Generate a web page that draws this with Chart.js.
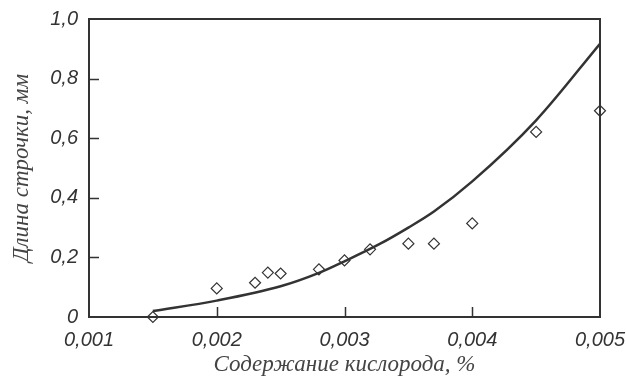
<!DOCTYPE html>
<html>
<head>
<meta charset="utf-8">
<script src="https://cdn.jsdelivr.net/npm/chart.js@4"></script>
<style>
  html, body { margin: 0; padding: 0; background: #fff; }
  #wrap { width: 626px; height: 379px; }
</style>
</head>
<body>
<div id="wrap"><canvas id="oxygenChart" width="626" height="379"></canvas></div>
<script>
// measured points (diamonds)
const pointX = [0.0015, 0.002, 0.0023, 0.0024, 0.0025, 0.0028, 0.003, 0.0032, 0.0035, 0.0037, 0.004, 0.0045, 0.005];
const pointY = [0.0, 0.096, 0.115, 0.149, 0.146, 0.160, 0.190, 0.227, 0.246, 0.246, 0.314, 0.621, 0.692];

// fitted curve
const curveX = [0.0015, 0.002, 0.0025, 0.0028, 0.003, 0.00328, 0.0035, 0.0037, 0.004, 0.0045, 0.005];
const curveY = [0.020, 0.055, 0.103, 0.148, 0.187, 0.246, 0.300, 0.354, 0.455, 0.660, 0.917];

// axis ticks
const xTicks = [0.001, 0.002, 0.003, 0.004, 0.005];
const xTickLabels = ["0,001", "0,002", "0,003", "0,004", "0,005"];
const yTicks = [0, 0.2, 0.4, 0.6, 0.8, 1.0];
const yTickLabels = ["0", "0,2", "0,4", "0,6", "0,8", "1,0"];

const xTitle = "Содержание кислорода, %";
const yTitle = "Длина строчки, мм";

const ink = "#333333";
const tickFont = { family: "'Liberation Sans', Arial, sans-serif", size: 20, style: "italic" };
const titleFont = { family: "'Liberation Serif', 'Times New Roman', serif", size: 23, style: "italic", lineHeight: 1.2 };

const ctx = document.getElementById("oxygenChart").getContext("2d");

// frame, inner ticks and the y title
const framePlugin = {
  id: "frame",
  afterDatasetsDraw(chart) {
    const c = chart.ctx;
    const a = chart.chartArea;
    const xs = chart.scales.x;
    const ys = chart.scales.y;
    c.save();
    c.strokeStyle = ink;
    c.lineWidth = 2;
    c.strokeRect(a.left, a.top, a.right - a.left, a.bottom - a.top);
    c.lineWidth = 1.5;
    c.beginPath();
    xTicks.slice(1, -1).forEach(v => {
      const px = Math.round(xs.getPixelForValue(v)) + 0.5;
      c.moveTo(px, a.bottom);
      c.lineTo(px, a.bottom - 10);
    });
    yTicks.slice(1, -1).forEach(v => {
      const py = Math.round(ys.getPixelForValue(v)) + 0.5;
      c.moveTo(a.left, py);
      c.lineTo(a.left + 10, py);
    });
    c.stroke();

    c.fillStyle = "#444";
    c.font = "italic 23px 'Liberation Serif', 'Times New Roman', serif";
    c.textAlign = "center";
    c.textBaseline = "middle";
    c.translate(22, (a.top + a.bottom) / 2);
    c.rotate(-Math.PI / 2);
    c.fillText(yTitle, 0, 0);
    c.restore();
  }
};

new Chart(ctx, {
  data: {
    datasets: [
      {
        type: "line",
        data: curveX.map((x, i) => ({ x: x, y: curveY[i] })),
        borderColor: ink,
        borderWidth: 2.5,
        pointRadius: 0,
        cubicInterpolationMode: "monotone",
        fill: false
      },
      {
        type: "scatter",
        data: pointX.map((x, i) => ({ x: x, y: pointY[i] })),
        pointStyle: "rectRot",
        pointRadius: 5.5,
        borderWidth: 1.2,
        borderColor: ink,
        backgroundColor: "#fff",
        clip: false
      }
    ]
  },
  options: {
    responsive: false,
    animation: false,
    layout: { padding: { top: 19, right: 26, left: 0, bottom: 0 } },
    plugins: {
      legend: { display: false },
      tooltip: { enabled: false }
    },
    scales: {
      x: {
        type: "linear",
        min: 0.001,
        max: 0.005,
        afterFit: s => { s.height = 62; s.paddingLeft = 0; s.paddingRight = 0; },
        afterBuildTicks: s => { s.ticks = xTicks.map(v => ({ value: v })); },
        grid: { display: false, drawTicks: false },
        border: { display: false },
        ticks: {
          padding: 11,
          color: ink,
          font: tickFont,
          maxRotation: 0,
          callback: (v, i) => xTickLabels[i]
        },
        title: {
          display: true,
          text: xTitle,
          color: "#444",
          font: titleFont,
          padding: { top: 0, bottom: 0 }
        }
      },
      y: {
        type: "linear",
        min: 0,
        max: 1,
        afterFit: s => { s.width = 89; s.paddingTop = 0; s.paddingBottom = 0; },
        afterBuildTicks: s => { s.ticks = yTicks.map(v => ({ value: v })); },
        grid: { display: false, drawTicks: false },
        border: { display: false },
        ticks: {
          padding: 11,
          color: ink,
          font: tickFont,
          callback: (v, i) => yTickLabels[i]
        }
      }
    }
  },
  plugins: [framePlugin]
});
</script>
</body>
</html>
